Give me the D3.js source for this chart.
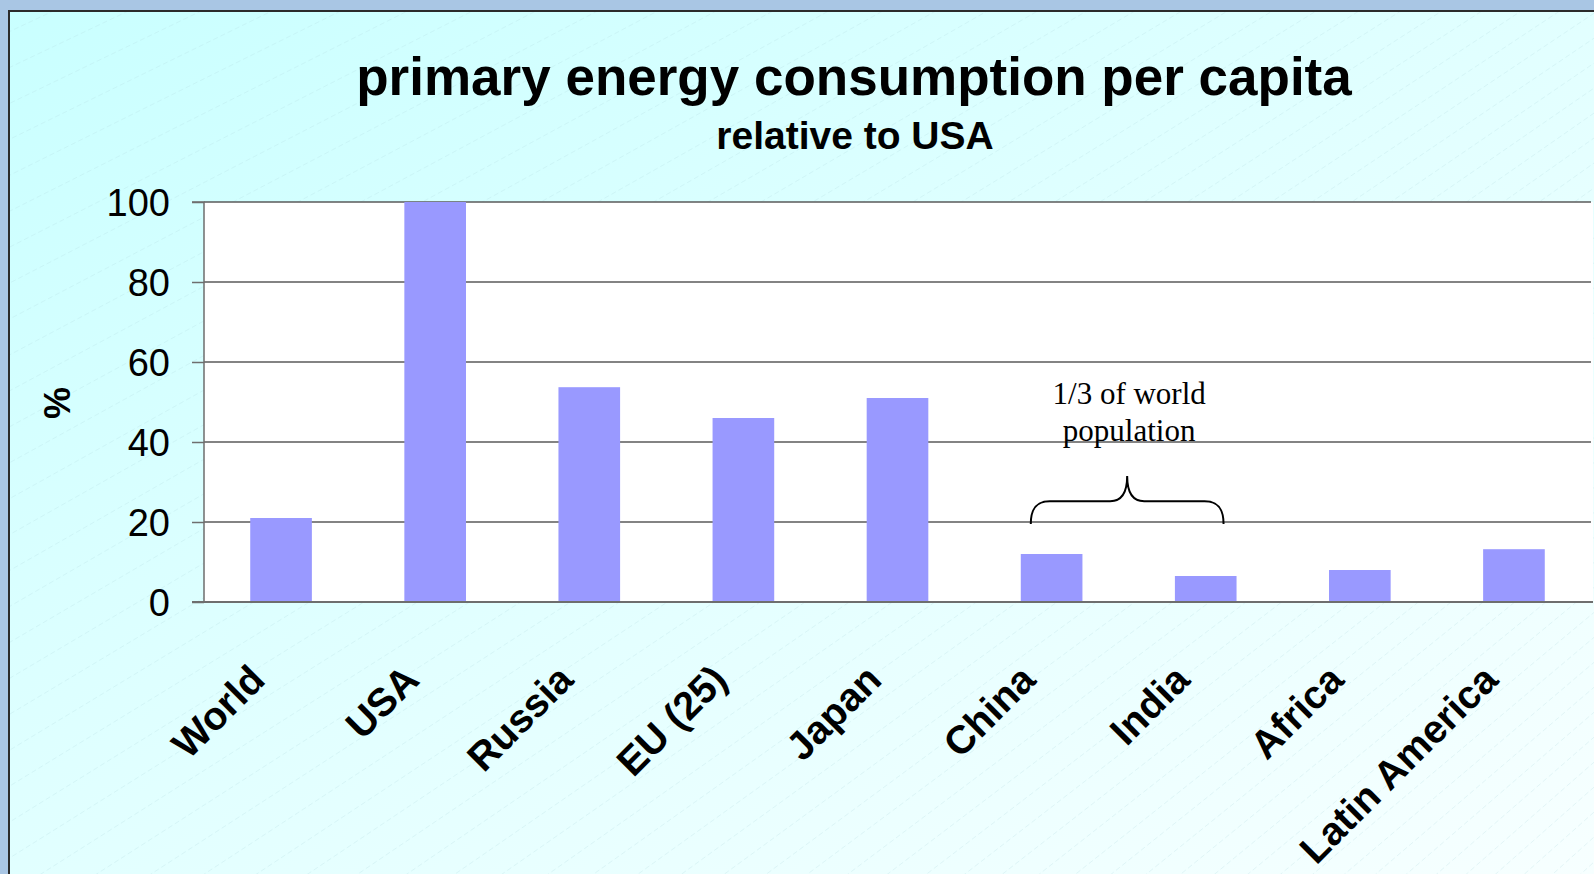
<!DOCTYPE html>
<html>
<head>
<meta charset="utf-8">
<script src="https://cdn.jsdelivr.net/npm/d3@7"></script>
<style>
  html, body { margin: 0; padding: 0; background: #a9c6e4; overflow: hidden; }
  svg { display: block; }
</style>
</head>
<body>
<svg id="chart" width="1594" height="874"></svg>
<script>
// ---- data ----
const categories = ["World", "USA", "Russia", "EU (25)", "Japan", "China", "India", "Africa", "Latin America"];
const values = [21, 100, 53.7, 46, 51, 12, 6.5, 8, 13.2];
const yTicks = [0, 20, 40, 60, 80, 100];
const titleText = "primary energy consumption per capita";
const subtitleText = "relative to USA";
const yAxisLabel = "%";
const noteLines = ["1/3 of world", "population"];
const braceGroup = ["China", "India"];

const W = 1594, H = 874;
const svg = d3.select("#chart");
const defs = svg.append("defs");

// background panel gradient
const grad = defs.append("linearGradient").attr("id", "bg")
  .attr("x1", 0).attr("y1", 0).attr("x2", 1).attr("y2", 1);
grad.append("stop").attr("offset", "0%").attr("stop-color", "#c9ffff");
grad.append("stop").attr("offset", "50%").attr("stop-color", "#e2ffff");
grad.append("stop").attr("offset", "100%").attr("stop-color", "#f8ffff");

svg.append("rect").attr("x", 0).attr("y", 0).attr("width", W).attr("height", H).attr("fill", "#a9c6e4");
svg.append("rect").attr("x", 9).attr("y", 11).attr("width", W + 20).attr("height", H + 20)
  .attr("fill", "url(#bg)").attr("stroke", "#2b2b2b").attr("stroke-width", 2);

// faint fan of diagonal lines
const clip = defs.append("clipPath").attr("id", "panelClip");
clip.append("rect").attr("x", 10).attr("y", 12).attr("width", W).attr("height", H);
const hatch = svg.append("g").attr("clip-path", "url(#panelClip)");
const P = [5200, -2400];
for (let i = -40; i < 90; i++) {
  const y0 = i * 36;
  const x0 = 0;
  hatch.append("line")
    .attr("x1", x0 - 2000).attr("y1", y0 + 2000 * (y0 - P[1]) / (P[0] - x0))
    .attr("x2", P[0]).attr("y2", P[1])
    .attr("stroke", "#b5dde3").attr("stroke-width", 0.7)
    .attr("stroke-dasharray", "5,3").attr("opacity", 0.4);
}

// ---- scales ----
const plot = { left: 204, right: 1591, top: 202, bottom: 602 };
const x = d3.scaleBand().domain(categories).range([plot.left, plot.right])
  .paddingInner(0.6).paddingOuter(0.3);
const y = d3.scaleLinear().domain([0, 100]).range([plot.bottom, plot.top]);

// plot area
svg.append("rect").attr("x", plot.left).attr("y", plot.top)
  .attr("width", plot.right - plot.left + 2).attr("height", plot.bottom - plot.top)
  .attr("fill", "#ffffff");

// gridlines
svg.append("g").selectAll("line").data(yTicks.filter(d => d > 0)).join("line")
  .attr("x1", plot.left).attr("x2", plot.right)
  .attr("y1", d => y(d)).attr("y2", d => y(d))
  .attr("stroke", "#5a5a5a").attr("stroke-width", 1.3);

// bars
svg.append("g").selectAll("rect").data(values).join("rect")
  .attr("x", (d, i) => x(categories[i]))
  .attr("width", x.bandwidth())
  .attr("y", d => y(d))
  .attr("height", d => y(0) - y(d))
  .attr("fill", "#9999ff");

// y axis
const yAxis = d3.axisLeft(y).tickValues(yTicks).tickSize(12).tickPadding(22);
const yg = svg.append("g").attr("transform", `translate(${plot.left},0)`).call(yAxis);
yg.select(".domain").attr("stroke", "#6e6e6e").attr("stroke-width", 1.5)
  .attr("d", `M-12,${plot.top}H0V${plot.bottom}H-12`);
yg.selectAll(".tick line").attr("stroke", "#6e6e6e").attr("stroke-width", 1.5);
yg.selectAll(".tick text")
  .attr("font-family", "'Liberation Sans', Arial, sans-serif")
  .attr("font-size", 38).attr("fill", "#000").attr("dy", "0.36em");

// baseline
svg.append("line").attr("x1", plot.left - 12).attr("x2", plot.right + 2)
  .attr("y1", y(0)).attr("y2", y(0))
  .attr("stroke", "#6e6e6e").attr("stroke-width", 1.8);

// x labels
const xg = svg.append("g");
xg.selectAll("text").data(categories).join("text")
  .attr("transform", d => `translate(${x(d) + x.bandwidth() / 2 - 14},682) rotate(-45)`)
  .attr("text-anchor", "end")
  .attr("font-family", "'Liberation Sans', Arial, sans-serif")
  .attr("font-weight", "bold").attr("font-size", 39.5).attr("fill", "#000")
  .text(d => d);

// y label
svg.append("text")
  .attr("transform", "translate(70,403) rotate(-90)")
  .attr("text-anchor", "middle")
  .attr("font-family", "'Liberation Sans', Arial, sans-serif")
  .attr("font-weight", "bold").attr("font-size", 36)
  .text(yAxisLabel);

// titles
svg.append("text").attr("x", 854).attr("y", 95).attr("text-anchor", "middle")
  .attr("font-family", "'Liberation Sans', Arial, sans-serif")
  .attr("font-weight", "bold").attr("font-size", 53).text(titleText);
svg.append("text").attr("x", 855).attr("y", 149).attr("text-anchor", "middle")
  .attr("font-family", "'Liberation Sans', Arial, sans-serif")
  .attr("font-weight", "bold").attr("font-size", 39).text(subtitleText);

// brace annotation
const bL = x(braceGroup[0]) + 10;
const bR = x(braceGroup[1]) + x.bandwidth() - 13;
const bM = (bL + bR) / 2;
const yEnd = y(19.5), yMid = y(25.2), yPeak = y(31.5);
const bracePath = `M${bL},${yEnd} C${bL},${yMid + 8} ${bL + 5},${yMid} ${bL + 19},${yMid}
  L${bM - 17},${yMid} C${bM - 5},${yMid} ${bM},${yMid - 9} ${bM},${yPeak}
  C${bM},${yMid - 9} ${bM + 5},${yMid} ${bM + 17},${yMid}
  L${bR - 19},${yMid} C${bR - 5},${yMid} ${bR},${yMid + 8} ${bR},${yEnd}`;
svg.append("path").attr("d", bracePath).attr("fill", "none")
  .attr("stroke", "#000").attr("stroke-width", 2);

svg.append("g").selectAll("text").data(noteLines).join("text")
  .attr("x", bM + 2).attr("y", (d, i) => 404 + i * 37)
  .attr("text-anchor", "middle")
  .attr("font-family", "'Liberation Serif', 'Times New Roman', serif")
  .attr("font-size", 31).attr("fill", "#000")
  .text(d => d);
</script>
</body>
</html>
